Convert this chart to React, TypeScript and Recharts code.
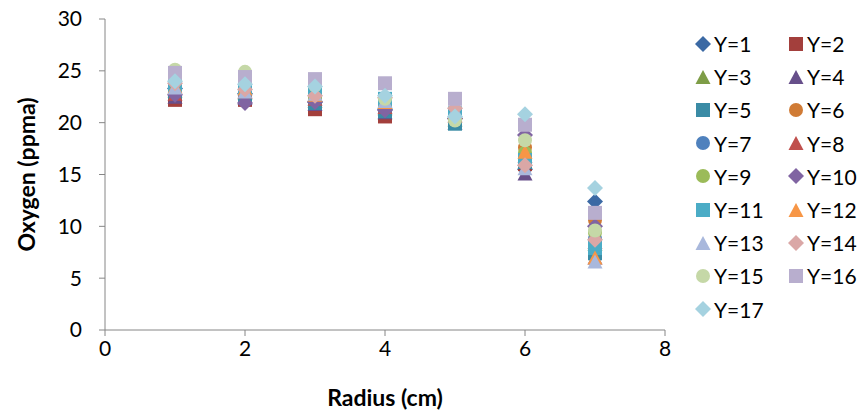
import React from 'react';
import { ScatterChart, Scatter, XAxis, YAxis, Legend } from 'recharts';

const radii = [1, 2, 3, 4, 5, 6, 7];
const xTicks = [0, 2, 4, 6, 8];
const yTicks = [0, 5, 10, 15, 20, 25, 30];

const seriesNames = ['Y=1', 'Y=2', 'Y=3', 'Y=4', 'Y=5', 'Y=6', 'Y=7', 'Y=8', 'Y=9', 'Y=10', 'Y=11', 'Y=12', 'Y=13', 'Y=14', 'Y=15', 'Y=16', 'Y=17'];

const y1 = [23.3, 22.8, 22.0, 21.3, 20.4, 15.5, 12.4];
const y2 = [22.2, 22.2, 21.3, 20.6, 20.1, 16.0, 8.2];
const y3 = [23.1, 22.9, 22.1, 21.4, 20.3, 16.5, 8.3];
const y4 = [22.5, 22.4, 21.8, 21.0, 20.0, 15.1, 7.0];
const y5 = [22.9, 22.6, 21.9, 21.1, 19.9, 16.2, 7.4];
const y6 = [23.0, 22.9, 22.5, 21.8, 20.8, 17.6, 10.6];
const y7 = [22.9, 22.7, 22.2, 21.6, 20.6, 16.7, 8.8];
const y8 = [22.8, 23.0, 22.3, 21.5, 20.7, 16.8, 8.5];
const y9 = [23.2, 23.1, 22.4, 21.7, 20.5, 17.1, 9.4];
const y10 = [22.7, 21.9, 22.0, 21.2, 20.4, 18.8, 10.0];
const y11 = [23.6, 23.4, 23.2, 22.3, 20.9, 16.4, 7.9];
const y12 = [23.5, 23.3, 22.7, 22.0, 21.0, 17.2, 7.0];
const y13 = [23.4, 23.0, 22.8, 22.1, 21.2, 15.6, 6.6];
const y14 = [23.8, 23.2, 22.6, 22.4, 21.4, 15.9, 8.7];
const y15 = [25.1, 24.9, 23.6, 22.3, 20.2, 18.3, 9.6];
const y16 = [24.8, 24.4, 24.2, 23.8, 22.3, 19.8, 11.3];
const y17 = [24.0, 23.7, 23.5, 22.6, 20.6, 20.8, 13.7];

const seriesValues = [y1, y2, y3, y4, y5, y6, y7, y8, y9, y10, y11, y12, y13, y14, y15, y16, y17];

const colors = ['#3B69A4', '#A33F3C', '#7E9D47', '#674F8A', '#3A8BA5', '#D07B35', '#4F81BD', '#C0504D', '#9BBB59', '#8064A2', '#4BACC6', '#F79646', '#A9B8DC', '#DAA7A6', '#C5D8A7', '#B8AECE', '#A5D2E0'];
const shapes = ['diamond', 'square', 'triangle', 'triangle', 'square', 'circle', 'circle', 'triangle', 'circle', 'diamond', 'square', 'triangle', 'triangle', 'diamond', 'circle', 'square', 'diamond'];

const FONT = "Lato, 'Liberation Sans', sans-serif";

function Marker({ cx, cy, kind, color }: { cx: number; cy: number; kind: string; color: string }) {
  if (cx == null || cy == null) return null;
  if (kind === 'diamond') {
    const r = 8;
    return <polygon points={`${cx},${cy - r} ${cx + r},${cy} ${cx},${cy + r} ${cx - r},${cy}`} fill={color} />;
  }
  if (kind === 'square') {
    const s = 14;
    return <rect x={cx - s / 2} y={cy - s / 2} width={s} height={s} fill={color} />;
  }
  if (kind === 'triangle') {
    const h = 14;
    return <polygon points={`${cx},${cy - h / 2} ${cx + 7.5},${cy + h / 2} ${cx - 7.5},${cy + h / 2}`} fill={color} />;
  }
  return <circle cx={cx} cy={cy} r={7} fill={color} />;
}

function LegendContent() {
  return (
    <div style={{ display: 'grid', gridTemplateColumns: '93px 82px', fontFamily: FONT, fontSize: 21, color: '#000' }}>
      {seriesNames.map((name, i) => (
        <div key={name} style={{ height: 33.2, display: 'flex', alignItems: 'center' }}>
          <svg width={18} height={18} style={{ marginLeft: 4, marginRight: 2 }}>
            <Marker cx={9} cy={9} kind={shapes[i]} color={colors[i]} />
          </svg>
          <span>{name}</span>
        </div>
      ))}
    </div>
  );
}

export default function App() {
  const tickStyle = { fontFamily: FONT, fontSize: 21, fill: '#000' };
  return (
    <div style={{ position: 'absolute', left: 0, top: 0, background: '#fff' }}>
      <ScatterChart width={865} height={417} margin={{ top: 19, right: 25, bottom: 0, left: 0 }}>
        <XAxis
          type="number"
          dataKey="x"
          domain={[0, 8]}
          ticks={xTicks}
          axisLine={{ stroke: '#868686' }}
          tickLine={{ stroke: '#868686' }}
          tickSize={6}
          tickMargin={5}
          tick={tickStyle}
          height={87}
          label={{
            content: (p: any) => (
              <text
                x={p.viewBox.x + p.viewBox.width / 2}
                y={p.viewBox.y + 76}
                textAnchor="middle"
                style={{ fontFamily: FONT, fontSize: 23, fontWeight: 'bold', fill: '#000' }}
              >
                Radius (cm)
              </text>
            ),
          }}
        />
        <YAxis
          type="number"
          dataKey="y"
          domain={[0, 30]}
          ticks={yTicks}
          axisLine={{ stroke: '#868686' }}
          tickLine={{ stroke: '#868686' }}
          tickSize={6}
          tickMargin={17}
          tick={tickStyle}
          width={105}
          label={{
            content: (p: any) => {
              const cx = p.viewBox.x + 26;
              const cy = p.viewBox.y + p.viewBox.height / 2;
              return (
                <text
                  x={cx}
                  y={cy}
                  transform={`rotate(-90, ${cx}, ${cy})`}
                  textAnchor="middle"
                  dominantBaseline="central"
                  style={{ fontFamily: FONT, fontSize: 23, fontWeight: 'bold', fill: '#000' }}
                >
                  Oxygen (ppma)
                </text>
              );
            },
          }}
        />
        <Legend
          layout="vertical"
          align="right"
          verticalAlign="top"
          width={175}
          wrapperStyle={{ left: 690, top: 27 }}
          content={() => <LegendContent />}
        />
        {seriesNames.map((name, i) => (
          <Scatter
            key={name}
            name={name}
            data={radii.map((r, j) => ({ x: r, y: seriesValues[i][j] }))}
            fill={colors[i]}
            isAnimationActive={false}
            shape={(p: any) => <Marker cx={p.cx} cy={p.cy} kind={shapes[i]} color={colors[i]} />}
          />
        ))}
      </ScatterChart>
    </div>
  );
}
